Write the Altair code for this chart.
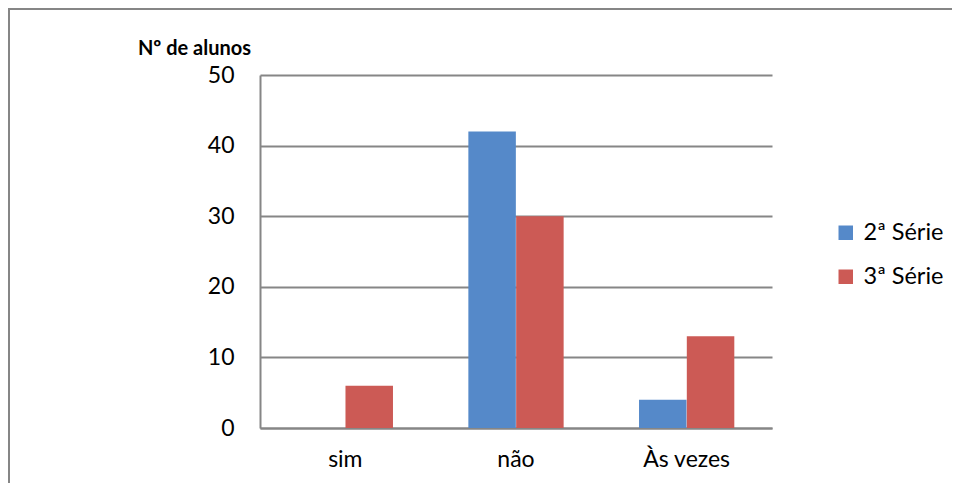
import altair as alt
import pandas as pd

categories = ["sim", "não", "Às vezes"]
series = ["2ª Série", "3ª Série"]
serie2 = [0, 42, 4]
serie3 = [6, 30, 13]
colors = ["#5589C9", "#CC5A55"]

rows = []
for i, c in enumerate(categories):
    rows.append({"cat": c, "serie": series[0], "n": serie2[i]})
    rows.append({"cat": c, "serie": series[1], "n": serie3[i]})
df = pd.DataFrame(rows)

FONT = "Lato"

bars = alt.Chart(df).mark_bar(size=47.5).encode(
    x=alt.X("cat:N", sort=categories,
            scale=alt.Scale(paddingInner=0.44, paddingOuter=0.22),
            axis=alt.Axis(title=None, labelAngle=0, labelFontSize=23, labelPadding=20,
                          ticks=False, domainColor="#868686", domainWidth=2,
                          labelColor="black", labelFont=FONT)),
    xOffset=alt.XOffset("serie:N", sort=series, scale=alt.Scale(paddingInner=0, paddingOuter=0)),
    y=alt.Y("n:Q", scale=alt.Scale(domain=[0, 50]),
            axis=alt.Axis(values=[0, 10, 20, 30, 40, 50], title="Nº de alunos",
                          titleAngle=0, titleAlign="center", titleBaseline="middle",
                          titleX=-66, titleY=-27, titleFontSize=20, titleFontWeight="bold",
                          titleFont=FONT, titleColor="black",
                          labelFontSize=23, labelPadding=26, labelColor="black", labelFont=FONT,
                          ticks=False, grid=True, gridColor="#868686", gridWidth=2,
                          domainColor="#868686", domainWidth=2)),
    color=alt.Color("serie:N", sort=series,
                    scale=alt.Scale(domain=series, range=colors),
                    legend=alt.Legend(title=None, orient="none", legendX=574, legendY=146,
                                      symbolType="square", symbolSize=210, symbolStrokeWidth=0,
                                      labelFontSize=23.5, labelFont=FONT, labelColor="black",
                                      rowPadding=19, labelOffset=6)),
)

frame = alt.Chart(pd.DataFrame({"a": [0]})).mark_rect(
    fill=None, stroke="#868686", strokeWidth=2
).encode(
    x=alt.value(-251), x2=alt.value(760),
    y=alt.value(-66), y2=alt.value(520),
)

chart = alt.layer(frame, bars).properties(
    width=512, height=353,
    autosize=alt.AutoSizeParams(type="none"),
    padding={"left": 252, "top": 67, "right": 180, "bottom": 55},
).configure_view(stroke=None)

chart.save("out.html", embed_options={"renderer": "svg", "actions": False})
